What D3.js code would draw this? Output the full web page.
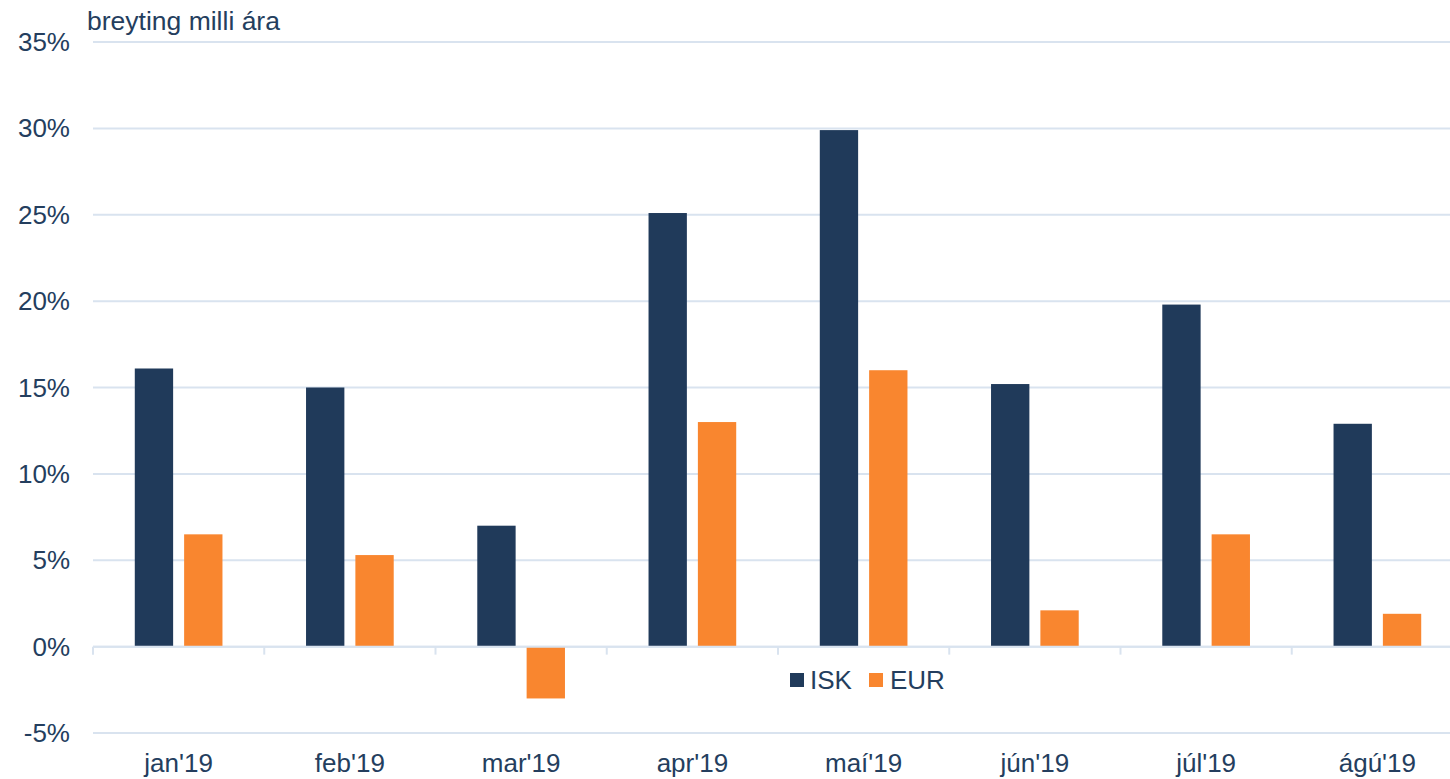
<!DOCTYPE html>
<html>
<head>
<meta charset="utf-8">
<script src="https://cdn.jsdelivr.net/npm/d3@7"></script>
<style>
  body { margin: 0; background: #fff; }
  text { font-family: "Liberation Sans", Arial, sans-serif; fill: #243e5e; }
</style>
</head>
<body>
<div id="chart"></div>
<script>

var months = ["jan'19", "feb'19", "mar'19", "apr'19", "maí'19", "jún'19", "júl'19", "ágú'19"];
var seriesNames = ['ISK', 'EUR'];
var iskValues = [16.1, 15.0, 7.0, 25.1, 29.9, 15.2, 19.8, 12.9];
var eurValues = [6.5, 5.3, -3.0, 13.0, 16.0, 2.1, 6.5, 1.9];
var yTicks = [-5, 0, 5, 10, 15, 20, 25, 30, 35];
var colors = { ISK: '#203a5a', EUR: '#f9862f' };

function drawChart() {

    var width = 1450, height = 779;
    var chartC = { x0: 93, x1: 1463, y0: 42, y1: 733 };

    var svg = d3.select('#chart').append('svg')
        .attr('width', width)
        .attr('height', height);

    var yScale = d3.scaleLinear()
        .domain([-5, 35])
        .range([chartC.y1, chartC.y0]);

    var xScale_0 = d3.scaleBand()
        .domain(months)
        .range([chartC.x0, chartC.x1])
        .paddingInner(0.488)
        .paddingOuter(0.244);

    var xScale_1 = d3.scaleBand()
        .domain(seriesNames)
        .range([0, xScale_0.bandwidth()])
        .paddingInner(0.223);

    // grid lines
    svg.append('g')
        .selectAll('line')
        .data(yTicks)
        .enter()
        .append('line')
        .attr('x1', chartC.x0)
        .attr('x2', chartC.x1)
        .attr('y1', d => yScale(d))
        .attr('y2', d => yScale(d))
        .style('stroke', '#d9e3ef')
        .style('stroke-width', 2);

    // y labels
    svg.append('g')
        .selectAll('text')
        .data(yTicks)
        .enter()
        .append('text')
        .attr('x', 70)
        .attr('y', d => yScale(d) + 9)
        .attr('text-anchor', 'end')
        .style('font-size', '26px')
        .text(d => d + '%');

    // title
    svg.append('text')
        .attr('x', 87)
        .attr('y', 30)
        .style('font-size', '26.5px')
        .text('breyting milli ára');

    var rows = months.map((m, i) => ({ month: m, ISK: iskValues[i], EUR: eurValues[i] }));

    var groups = svg.append('g')
        .selectAll('g')
        .data(rows)
        .enter()
        .append('g')
        .attr('transform', d => `translate(${xScale_0(d.month)},0)`);

    groups.selectAll('rect')
        .data(d => seriesNames.map(k => ({ key: k, value: d[k] })))
        .enter()
        .append('rect')
        .attr('x', d => xScale_1(d.key))
        .attr('y', d => yScale(Math.max(0, d.value)))
        .attr('width', xScale_1.bandwidth())
        .attr('height', d => Math.abs(yScale(d.value) - yScale(0)))
        .style('fill', d => colors[d.key]);

    // zero axis with category ticks
    var axis = svg.append('g');
    axis.append('line')
        .attr('x1', chartC.x0)
        .attr('x2', chartC.x1)
        .attr('y1', yScale(0))
        .attr('y2', yScale(0))
        .style('stroke', '#d9e3ef')
        .style('stroke-width', 2);

    axis.selectAll('.tick')
        .data(months)
        .enter()
        .append('line')
        .attr('x1', d => xScale_0(d) - xScale_0.step() * 0.244)
        .attr('x2', d => xScale_0(d) - xScale_0.step() * 0.244)
        .attr('y1', yScale(0))
        .attr('y2', yScale(0) + 8)
        .style('stroke', '#d9e3ef')
        .style('stroke-width', 2);

    // x labels
    svg.append('g')
        .selectAll('text')
        .data(months)
        .enter()
        .append('text')
        .attr('x', d => xScale_0(d) + xScale_0.bandwidth() / 2)
        .attr('y', 772)
        .attr('text-anchor', 'middle')
        .style('font-size', '26px')
        .text(d => d);

    // legend
    var legend = svg.append('g')
        .attr('transform', 'translate(790,673)');

    legend.append('rect')
        .attr('width', 14).attr('height', 14)
        .style('fill', colors.ISK);
    legend.append('text')
        .attr('x', 20).attr('y', 16)
        .style('font-size', '26px')
        .text('ISK');

    legend.append('rect')
        .attr('x', 79)
        .attr('width', 14).attr('height', 14)
        .style('fill', colors.EUR);
    legend.append('text')
        .attr('x', 100).attr('y', 16)
        .style('font-size', '26px')
        .text('EUR');
}

drawChart();
</script>
</body>
</html>
